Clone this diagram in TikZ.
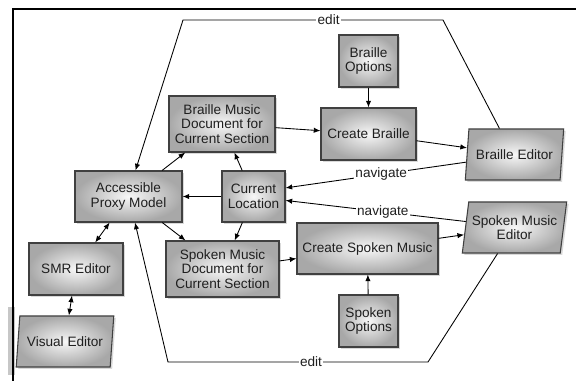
\documentclass[tikz,border=0pt]{standalone}
\usepackage{fontspec}
\setmainfont{Liberation Sans}
\usetikzlibrary{arrows.meta,shapes.geometric,shadows}

\begin{document}
\begin{tikzpicture}[x=0.75pt, y=-0.75pt,
	every node/.style={font=\fontsize{10.2}{11}\selectfont, text=black!88, align=center, inner sep=2pt},
	box/.style={rectangle, draw=black!75, line width=0.8pt, inner color=black!3, outer color=black!34,
		drop shadow={opacity=0.3, shadow xshift=1.5pt, shadow yshift=-1.5pt}},
	editor/.style={box, trapezium, trapezium left angle=78, trapezium right angle=102, trapezium stretches=true},
	link/.style={-{Latex[length=5pt, width=4pt]}, line width=0.65pt},
	twoway/.style={{Latex[length=5pt, width=4pt]}-{Latex[length=5pt, width=4pt]}, line width=0.65pt},
	lbl/.style={fill=white, inner sep=1pt}]
			\useasboundingbox (0,0) rectangle (576,381);
			\fill[black!22] (8,307) rectangle (15,375);
			\draw[line width=0.8pt] (13,381) -- (13,9) -- (576,9);

			\node[box, minimum width=80.25pt, minimum height=38.25pt] (apm) at (128.5,196.5) {Accessible\\Proxy Model};
			\node[box, minimum width=79.5pt, minimum height=42pt] (bmd) at (222,124) {Braille Music\\Document for\\Current Section};
			\node[box, minimum width=47.25pt, minimum height=38.25pt] (cl) at (253.5,196.5) {Current\\Location};
			\node[box, minimum width=84.75pt, minimum height=42pt] (smd) at (222.5,269) {Spoken Music\\Document for\\Current Section};
			\node[box, minimum width=70.5pt, minimum height=39pt] (smr) at (76,269) {SMR Editor};
			\node[editor, minimum width=73.5pt, minimum height=38.25pt] (ve) at (65,341.5) {Visual Editor};
			\node[box, minimum width=44.25pt, minimum height=39pt] (bo) at (368.5,61) {Braille\\Options};
			\node[box, minimum width=71.25pt, minimum height=39pt] (ccb) at (368.5,134) {Create Braille};
			\node[editor, minimum width=74.25pt, minimum height=38.25pt] (be) at (514.5,154.5) {Braille Editor};
			\node[box, minimum width=105.75pt, minimum height=38.25pt] (csm) at (367.5,248.5) {Create Spoken Music};
			\node[box, minimum width=44.25pt, minimum height=39pt] (so) at (368.5,321) {Spoken\\Options};
			\node[editor, minimum width=78.75pt, minimum height=38.25pt] (sme) at (514.5,227.5) {Spoken Music\\Editor};

			\coordinate (et1) at (443,20);
			\coordinate (et2) at (183,20);
			\coordinate (eb1) at (428,362);
			\coordinate (eb2) at (168,362);

			\draw[link] (apm) -- (bmd);
			\draw[link] (cl) -- (bmd);
			\draw[link] (cl) -- (apm);
			\draw[link] (apm) -- (smd);
			\draw[link] (cl) -- (smd);
			\draw[twoway] (apm) -- (smr);
			\draw[twoway] (smr) -- (ve);
			\draw[link] (bmd) -- (ccb);
			\draw[link] (bo) -- (ccb);
			\draw[link] (ccb) -- (be);
			\draw[link] (smd) -- (csm);
			\draw[link] (so) -- (csm);
			\draw[link] (csm) -- (sme);
			\draw[link] (be.189) -- node[lbl, pos=0.47] {navigate} (cl.15);
			\draw[link] (sme.173) -- node[lbl, pos=0.46] {navigate} (cl.-7);
			\draw[link] (be.120) -- (et1) -- node[lbl, pos=0.44] {edit} (et2) -- (apm.75);
			\draw[link] (sme.237) -- (eb1) -- node[lbl, pos=0.45] {edit} (eb2) -- (apm.-76);
		\end{tikzpicture}
\end{document}
